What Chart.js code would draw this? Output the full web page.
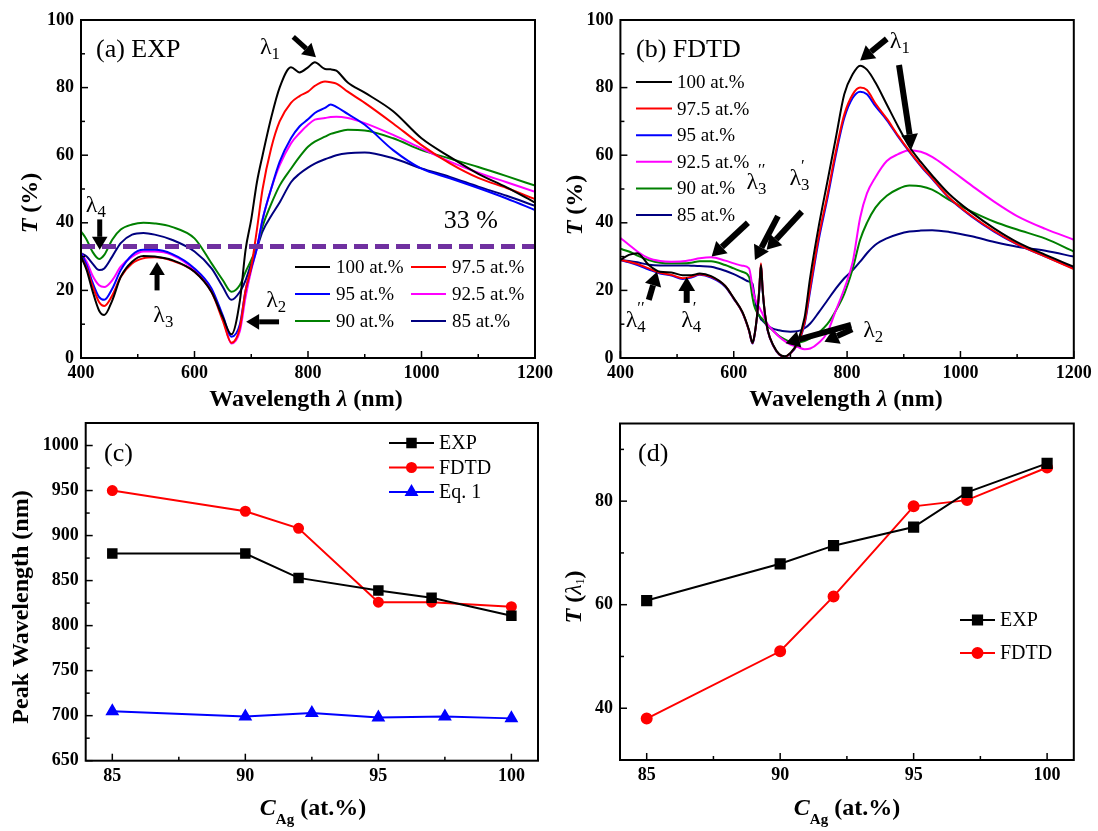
<!DOCTYPE html>
<html>
<head>
<meta charset="utf-8">
<script src="https://cdn.jsdelivr.net/npm/chart.js@4.4.1/dist/chart.umd.min.js"></script>
<style>
  body { margin: 0; background: #fff; width: 1098px; height: 831px; overflow: hidden; position: relative; }
  .pane { position: absolute; }
</style>
</head>
<body>
<div class="pane" style="left:0;top:0;width:560px;height:415px"><canvas id="chartA"></canvas></div>
<div class="pane" style="left:560px;top:0;width:538px;height:415px"><canvas id="chartB"></canvas></div>
<div class="pane" style="left:0;top:415px;width:560px;height:416px"><canvas id="chartC"></canvas></div>
<div class="pane" style="left:560px;top:415px;width:538px;height:416px"><canvas id="chartD"></canvas></div>
<script>
// ---- (a) measured transmission spectra ----
const wavesA = [400, 410, 420, 432, 441, 455, 470, 490, 510, 530, 560, 600, 630, 650, 665, 680, 690, 700, 710, 720,
  735, 750, 770, 785, 800, 812, 830, 840, 850, 870, 900, 950, 1000, 1050, 1100, 1150, 1200];
const expT100 = [30, 26, 20, 14, 12.7, 17, 24, 28.5, 30.2, 30, 29, 25.5, 19.5, 12, 7, 17, 32, 41, 52, 60,
  71, 80, 86, 84.5, 86, 87.5, 85.5, 85.4, 85, 81.5, 78.5, 73, 65, 59.5, 54.5, 50.5, 46];
const expT975 = [30, 26.5, 21.5, 16.5, 15.4, 18.5, 24, 28, 29.5, 29.8, 28.8, 25.5, 19.5, 11, 4.5, 9, 20, 27, 38, 50,
  62, 70, 75.5, 77.5, 78.8, 80.5, 81.8, 81.6, 81.2, 78.8, 75.5, 69.4, 63, 57.6, 53.3, 50.3, 47];
const expT95 = [31, 27.5, 22.5, 18, 17.2, 20.5, 26, 30.5, 32, 32, 30.8, 26.5, 20.6, 12.5, 6.3, 10, 20, 26.5, 32.5, 41,
  50, 58, 65, 68.5, 70.6, 72.5, 74, 75, 74.3, 72.2, 69, 61.5, 56, 53.2, 50.3, 47.2, 43.8];
const expT925 = [31, 28.5, 24.5, 21.5, 21, 23, 27, 30, 31.5, 31.5, 30.5, 26, 20, 12, 4.3, 8, 18, 26, 32.5, 41,
  50, 57, 63.5, 66.5, 69, 70.5, 71, 71.3, 71.4, 71, 69.5, 66, 62, 58.1, 54.8, 52, 49.2];
const expT90 = [37.5, 35, 31.5, 29.3, 30.5, 35, 38, 39.5, 40, 39.8, 38.8, 35.4, 28, 23, 19.6, 21.6, 25.5, 29, 33, 39,
  45.5, 51, 56, 59.5, 62.5, 64, 65.5, 66.3, 66.8, 67.5, 67.3, 65, 61.5, 59, 56.5, 53.8, 51];
const expT85 = [31, 30, 28, 26, 26.5, 30, 34, 36.5, 37, 36.5, 35, 31.5, 26.5, 21, 17.2, 19.6, 23, 28, 32.5, 37.5,
  42, 46, 52, 54.5, 56.3, 57.5, 58.8, 59.4, 60, 60.6, 60.8, 59.1, 56.1, 53.6, 50.7, 48, 45];
const thresholdLevel = 33;

// ---- (b) simulated transmission spectra ----
const wavesB = [400, 415, 430, 450, 470, 490, 510, 525, 540, 560, 585, 600, 615, 627, 633, 636, 641, 645, 648, 651,
  655, 660, 670, 680, 690, 700, 712, 725, 735, 750, 765, 780, 795, 810, 823, 835, 850, 870, 890, 910,
  930, 950, 980, 1020, 1060, 1100, 1150, 1200];
const fdtdT100 = [29, 30.5, 31, 27.5, 25.5, 25.3, 24.5, 24.5, 25, 24.2, 21.3, 17.7, 13.7, 8.2, 4.5, 6.2, 12.4, 20, 27.5, 20,
  13.2, 8.2, 3.7, 1.2, 0.5, 1.5, 4.5, 12, 24, 39, 52, 65, 78, 84, 86.5, 85.3, 81.5, 75, 68.5, 62.5,
  58, 54, 48.5, 43, 38.3, 34.3, 30.5, 27];
const fdtdT975 = [29, 28.5, 27.8, 26.5, 25.2, 24.6, 23.6, 24, 24.8, 24, 21.3, 17.6, 13.6, 8.1, 4.4, 6.1, 12.3, 20.5, 28, 20.5,
  13.1, 8.1, 3.6, 1.1, 0.4, 1.4, 4.1, 10.5, 21, 36, 48, 61, 72, 78, 80, 79.3, 75.3, 70.8, 65.8, 61.2,
  57, 53.2, 47.5, 42, 37.5, 33.7, 30, 26.3];
const fdtdT95 = [29, 28.3, 27.5, 26.2, 25, 24.4, 23.4, 23.8, 24.6, 23.8, 21.1, 17.5, 13.5, 8, 4.3, 6, 12.2, 20, 27.5, 20,
  13, 8, 3.5, 1, 0.3, 1.3, 4, 10, 20, 35, 47, 60, 71, 77, 78.8, 78, 74.5, 70.4, 65.5, 61,
  56.8, 53, 47.3, 41.8, 37.3, 33.6, 30, 26.5];
const fdtdT925 = [35.5, 33.5, 31.5, 29.5, 28.7, 28.5, 28.6, 29, 29.5, 29.8, 28.8, 28, 27.3, 26.5, 21, 18.5, 16, 15, 14, 13,
  11.5, 10, 8, 6.3, 5, 4, 3.3, 2.6, 2.8, 4.5, 7.5, 14, 20.5, 28.5, 41.5, 48.7, 53.5, 58.3, 60.3, 61.5,
  61, 59.5, 56, 51, 46.2, 42, 38.2, 35];
const fdtdT90 = [32.3, 31.5, 30.3, 29, 28.2, 28, 28, 28.2, 28.6, 28.6, 27.5, 26.5, 25.5, 24, 18, 15.5, 13.5, 12.5, 12, 11.5,
  10.5, 9.5, 8, 6.5, 5.5, 4.8, 4.5, 5, 5.8, 7.5, 10, 14, 19, 26.5, 35, 40, 44.5, 48, 50, 51,
  50.8, 49.8, 46.8, 43.3, 40.3, 38, 35.3, 31.5];
const fdtdT85 = [29, 28.7, 28.3, 27.6, 27.4, 27.4, 27.4, 27.3, 27.2, 27, 25.8, 24.8, 23.6, 22.6, 22, 19, 14, 12.5, 11.5, 11,
  10.3, 9.5, 8.6, 8.2, 7.9, 7.8, 7.9, 8.8, 10.2, 13.5, 17, 20.5, 23.6, 26, 28.5, 31, 33.5, 35.4, 36.6, 37.4,
  37.7, 37.8, 37.3, 36, 34.3, 32.9, 31.7, 30];

const seriesLabels = ['100 at.%', '97.5 at.%', '95 at.%', '92.5 at.%', '90 at.%', '85 at.%'];
const seriesColors = ['#000000', '#ff0000', '#0000ff', '#ff00ff', '#008000', '#000080'];

// ---- (c) peak wavelength and (d) peak transmission vs Ag content ----
const conc = [85, 90, 92, 95, 97, 100];
const concEq = [85, 90, 92.5, 95, 97.5, 100];
const peakExp = [880, 880, 853, 839, 831, 811];
const peakFdtd = [950, 927, 908, 826, 826, 821];
const peakEq1 = [705, 699, 703, 698, 699, 697];
const tPeakExp = [60.8, 67.9, 71.4, 75, 81.7, 87.3];
const tPeakFdtd = [38, 51, 61.6, 79, 80.2, 86.5];

// tick values
const wlTicks = [400, 600, 800, 1000, 1200];
const wlMinor = [500, 700, 900, 1100];
const tTicks = [0, 20, 40, 60, 80, 100];
const tMinor = [10, 30, 50, 70, 90];
const concTicks = [85, 90, 95, 100];
const concMinor = [87.5, 92.5, 97.5];
const peakTicks = [650, 700, 750, 800, 850, 900, 950, 1000];
const peakMinor = [675, 725, 775, 825, 875, 925, 975];
const tPeakTicks = [40, 60, 80];
const tPeakMinor = [50, 70, 90];

const SERIF = '"Liberation Serif", "Times New Roman", serif';
const fnt = (style, size) => `${style} ${size}px ${SERIF}`;

// text runs: {t, f, dy, over} -- "over" stacks a run above the previous one
function drawRich(ctx, parts, x, y, align) {
  const widths = parts.map(p => { ctx.font = p.f; return ctx.measureText(p.t).width; });
  let total = 0, start = 0;
  parts.forEach((p, i) => {
    if (p.over) total = Math.max(total, start + widths[i]);
    else { start = total; total += widths[i]; }
  });
  const x0 = align === 'center' ? x - total / 2 : x;
  let cursor = x0, lastStart = x0;
  ctx.textAlign = 'left';
  parts.forEach((p, i) => {
    ctx.font = p.f;
    let px;
    if (p.over) px = lastStart; else { px = cursor; lastStart = cursor; }
    ctx.fillText(p.t, px, y + (p.dy || 0));
    cursor = p.over ? Math.max(cursor, px + widths[i]) : px + widths[i];
  });
}

function drawArrow(ctx, x1, y1, x2, y2, w, head) {
  const a = Math.atan2(y2 - y1, x2 - x1);
  const bx = x2 - head * Math.cos(a), by = y2 - head * Math.sin(a);
  const hw = head * 0.6;
  ctx.lineWidth = w;
  ctx.beginPath(); ctx.moveTo(x1, y1); ctx.lineTo(bx, by); ctx.stroke();
  ctx.beginPath();
  ctx.moveTo(x2, y2);
  ctx.lineTo(bx + hw * Math.sin(a), by - hw * Math.cos(a));
  ctx.lineTo(bx - hw * Math.sin(a), by + hw * Math.cos(a));
  ctx.closePath(); ctx.fill();
}

function drawLegend(chart, ctx, lg) {
  const items = chart.data.datasets.filter(d => d.label);
  items.forEach((ds, i) => {
    const col = i % lg.cols, row = Math.floor(i / lg.cols);
    const x = lg.x + col * (lg.colW || 0), y = lg.y + row * lg.rowH;
    ctx.strokeStyle = ds.borderColor; ctx.lineWidth = ds.borderWidth;
    ctx.beginPath(); ctx.moveTo(x, y); ctx.lineTo(x + lg.len, y); ctx.stroke();
    if (ds.pointRadius) {
      ctx.fillStyle = ds.backgroundColor;
      Chart.helpers.drawPoint(ctx, { pointStyle: ds.pointStyle, radius: ds.pointRadius, rotation: 0, borderWidth: 1 }, x + lg.len / 2, y);
    }
    ctx.fillStyle = '#000'; ctx.font = lg.font; ctx.textBaseline = 'middle'; ctx.textAlign = 'left';
    ctx.fillText(ds.label, x + lg.len + lg.gap, y + 1);
  });
}

// frame, inward ticks, titles, notes, arrows and legend
const decor = {
  id: 'decor',
  afterDraw(chart, args, o) {
    const { ctx, chartArea: a } = chart;
    const x = chart.scales.x, y = chart.scales.y;
    ctx.save();
    ctx.strokeStyle = '#000'; ctx.fillStyle = '#000';
    ctx.lineWidth = 1.5;
    const seg = (x1, y1, x2, y2) => { ctx.beginPath(); ctx.moveTo(x1, y1); ctx.lineTo(x2, y2); ctx.stroke(); };
    o.xMajor.forEach(v => { const p = x.getPixelForValue(v); seg(p, a.bottom, p, a.bottom - 7); });
    o.xMinor.forEach(v => { const p = x.getPixelForValue(v); seg(p, a.bottom, p, a.bottom - 4); });
    o.yMajor.forEach(v => { const p = y.getPixelForValue(v); seg(a.left, p, a.left + 7, p); });
    o.yMinor.forEach(v => { const p = y.getPixelForValue(v); seg(a.left, p, a.left + 4, p); });
    ctx.lineWidth = 2;
    ctx.strokeRect(a.left, a.top, a.right - a.left, a.bottom - a.top);

    ctx.textBaseline = 'alphabetic';
    drawRich(ctx, o.tag, o.tagAt[0], o.tagAt[1], 'left');
    drawRich(ctx, o.xTitle, o.xTitleAt[0], o.xTitleAt[1], 'center');
    ctx.save();
    ctx.translate(o.yTitleAt[0], o.yTitleAt[1]);
    ctx.rotate(-Math.PI / 2);
    ctx.textBaseline = 'middle';
    drawRich(ctx, o.yTitle, 0, 0, 'center');
    ctx.restore();

    ctx.textBaseline = 'middle';
    (o.notes || []).forEach(n => drawRich(ctx, n.parts, x.getPixelForValue(n.at[0]), y.getPixelForValue(n.at[1]), 'center'));
    (o.arrows || []).forEach(r => drawArrow(ctx, x.getPixelForValue(r[0]), y.getPixelForValue(r[1]),
      x.getPixelForValue(r[2]), y.getPixelForValue(r[3]), o.arrowW, o.arrowHead));
    if (o.legend) drawLegend(chart, ctx, o.legend);
    ctx.restore();
  }
};

function axis(min, max, ticks, size, isX) {
  return {
    type: 'linear', min: min, max: max,
    grid: { display: false, drawTicks: false },
    border: { display: false },
    ticks: {
      color: '#000', font: { family: SERIF, size: 18, weight: 'bold' }, padding: isX ? 5 : 7,
      autoSkip: false, maxRotation: 0, callback: v => String(v)
    },
    afterBuildTicks: s => { s.ticks = ticks.map(v => ({ value: v })); },
    afterFit: s => {
      if (isX) s.height = size; else s.width = size;
      s.paddingLeft = s.paddingRight = s.paddingTop = s.paddingBottom = 0;
    }
  };
}

const xy = (xs, ys) => xs.map((v, i) => ({ x: v, y: ys[i] }));
const spectrum = (xs, ys, i) => ({
  label: seriesLabels[i], data: xy(xs, ys), borderColor: seriesColors[i], backgroundColor: seriesColors[i],
  borderWidth: 2, pointRadius: 0, cubicInterpolationMode: 'monotone'
});

function makeChart(id, datasets, scales, pad, deco) {
  return new Chart(document.getElementById(id), {
    type: 'line',
    data: { datasets: datasets },
    options: {
      responsive: true, maintainAspectRatio: false, animation: false,
      layout: { padding: pad },
      scales: scales,
      plugins: { legend: { display: false }, tooltip: { enabled: false }, decor: deco }
    },
    plugins: [decor]
  });
}

const lam = (sub, size) => [
  { t: 'λ', f: fnt('', size || 24) },
  { t: sub, f: fnt('', (size || 24) * 0.7), dy: 7 }
];
const lamP = (sub, primes) => lam(sub).concat([{ t: primes, f: fnt('', 17), dy: -12, over: true }]);

// (a) EXP
makeChart('chartA', [
  {
    data: [{ x: wlTicks[0], y: thresholdLevel }, { x: wlTicks[wlTicks.length - 1], y: thresholdLevel }],
    borderColor: '#7030a0', borderWidth: 5, borderDash: [14, 7], pointRadius: 0
  },
  spectrum(wavesA, expT100, 0), spectrum(wavesA, expT975, 1), spectrum(wavesA, expT95, 2),
  spectrum(wavesA, expT925, 3), spectrum(wavesA, expT90, 4), spectrum(wavesA, expT85, 5)
], {
  x: axis(400, 1200, wlTicks, 57, true),
  y: axis(0, 100, tTicks, 81, false)
}, { top: 20, right: 25, left: 0, bottom: 0 }, {
  xMajor: wlTicks, xMinor: wlMinor, yMajor: tTicks, yMinor: tMinor,
  tag: [{ t: '(a) EXP', f: fnt('', 26) }], tagAt: [96, 57],
  xTitle: [{ t: 'Wavelength ', f: fnt('bold', 24) }, { t: 'λ', f: fnt('bold italic', 24) }, { t: ' (nm)', f: fnt('bold', 24) }],
  xTitleAt: [306, 406],
  yTitle: [{ t: 'T', f: fnt('bold italic', 24) }, { t: ' (%)', f: fnt('bold', 24) }],
  yTitleAt: [31, 203],
  notes: [
    { parts: lam('1'), at: [733, 91.7] },
    { parts: [{ t: '33 %', f: fnt('', 26) }], at: [1087, 40.5] },
    { parts: lam('4'), at: [426, 45] },
    { parts: lam('3'), at: [545, 12.5] },
    { parts: lam('2'), at: [744, 17] }
  ],
  arrows: [[774, 95, 814, 89], [433, 41, 433, 32], [534, 20, 534, 28.4], [749, 10.7, 691, 10.7]],
  arrowW: 5, arrowHead: 13,
  legend: { x: 295, y: 267, cols: 2, colW: 116, rowH: 27, len: 35, gap: 6, font: fnt('', 19) }
});

// (b) FDTD
makeChart('chartB', [
  spectrum(wavesB, fdtdT100, 0), spectrum(wavesB, fdtdT975, 1), spectrum(wavesB, fdtdT95, 2),
  spectrum(wavesB, fdtdT925, 3), spectrum(wavesB, fdtdT90, 4), spectrum(wavesB, fdtdT85, 5)
], {
  x: axis(400, 1200, wlTicks, 57, true),
  y: axis(0, 100, tTicks, 60.4, false)
}, { top: 20, right: 24.2, left: 0, bottom: 0 }, {
  xMajor: wlTicks, xMinor: wlMinor, yMajor: tTicks, yMinor: tMinor,
  tag: [{ t: '(b) FDTD', f: fnt('', 26) }], tagAt: [76, 57],
  xTitle: [{ t: 'Wavelength ', f: fnt('bold', 24) }, { t: 'λ', f: fnt('bold italic', 24) }, { t: ' (nm)', f: fnt('bold', 24) }],
  xTitleAt: [286, 406],
  yTitle: [{ t: 'T', f: fnt('bold italic', 24) }, { t: ' (%)', f: fnt('bold', 24) }],
  yTitleAt: [16, 205],
  notes: [
    { parts: lam('1'), at: [893, 93.5] },
    { parts: lamP('3', '′′'), at: [640, 52] },
    { parts: lamP('3', '′'), at: [716, 53] },
    { parts: lamP('4', '′′'), at: [427, 11] },
    { parts: lamP('4', '′'), at: [525, 11] },
    { parts: lam('2'), at: [846, 8] }
  ],
  arrows: [[870, 94.4, 823, 88], [891.6, 86.7, 914, 62], [625, 40, 561, 30],
    [678, 42, 637.4, 29], [720, 43.3, 658, 32], [450, 17.2, 464.6, 25.5], [517, 16.3, 517, 24],
    [807, 9.8, 691.5, 4.4], [809, 8.5, 760, 4.8]],
  arrowW: 6, arrowHead: 14,
  legend: { x: 76, y: 82, cols: 1, rowH: 26.6, len: 36, gap: 5, font: fnt('', 19) }
});

// (c) peak wavelength
makeChart('chartC', [
  { label: 'EXP', data: xy(conc, peakExp), borderColor: '#000', backgroundColor: '#000', borderWidth: 2, pointStyle: 'rect', pointRadius: 6 },
  { label: 'FDTD', data: xy(conc, peakFdtd), borderColor: '#ff0000', backgroundColor: '#ff0000', borderWidth: 2, pointStyle: 'circle', pointRadius: 4.5 },
  { label: 'Eq. 1', data: xy(concEq, peakEq1), borderColor: '#0000ff', backgroundColor: '#0000ff', borderWidth: 2, pointStyle: 'triangle', pointRadius: 6 }
], {
  x: axis(84, 101, concTicks, 70.3, true),
  y: axis(650, 1025, peakTicks, 85.7, false)
}, { top: 7.7, right: 22, left: 0, bottom: 0 }, {
  xMajor: concTicks, xMinor: concMinor, yMajor: peakTicks, yMinor: peakMinor,
  tag: [{ t: '(c)', f: fnt('', 26) }], tagAt: [104, 46],
  xTitle: [{ t: 'C', f: fnt('bold italic', 24) }, { t: 'Ag', f: fnt('bold', 15), dy: 9 }, { t: ' (at.%)', f: fnt('bold', 24) }],
  xTitleAt: [313, 400],
  yTitle: [{ t: 'Peak Wavelength (nm)', f: fnt('bold', 24) }],
  yTitleAt: [22, 192],
  legend: { x: 389, y: 28, cols: 1, rowH: 24.5, len: 45, gap: 5, font: fnt('', 20) }
});

// (d) transmission at the main peak
makeChart('chartD', [
  { label: 'EXP', data: xy(conc, tPeakExp), borderColor: '#000', backgroundColor: '#000', borderWidth: 2, pointStyle: 'rect', pointRadius: 6.5 },
  { label: 'FDTD', data: xy(conc, tPeakFdtd), borderColor: '#ff0000', backgroundColor: '#ff0000', borderWidth: 2, pointStyle: 'circle', pointRadius: 5 }
], {
  x: axis(84, 101, concTicks, 71, true),
  y: axis(30, 95, tPeakTicks, 60, false)
}, { top: 6.7, right: 24.2, left: 0, bottom: 0 }, {
  xMajor: concTicks, xMinor: concMinor, yMajor: tPeakTicks, yMinor: tPeakMinor,
  tag: [{ t: '(d)', f: fnt('', 26) }], tagAt: [78, 46],
  xTitle: [{ t: 'C', f: fnt('bold italic', 24) }, { t: 'Ag', f: fnt('bold', 15), dy: 9 }, { t: ' (at.%)', f: fnt('bold', 24) }],
  xTitleAt: [287, 400],
  yTitle: [{ t: 'T', f: fnt('bold italic', 24) }, { t: ' (', f: fnt('bold', 24) }, { t: 'λ', f: fnt('italic', 24) },
    { t: '1', f: fnt('', 12), dy: 6 }, { t: ')', f: fnt('bold', 24) }],
  yTitleAt: [15, 182],
  legend: { x: 400, y: 205, cols: 1, rowH: 33, len: 35, gap: 5, font: fnt('', 20) }
});
</script>
</body>
</html>
